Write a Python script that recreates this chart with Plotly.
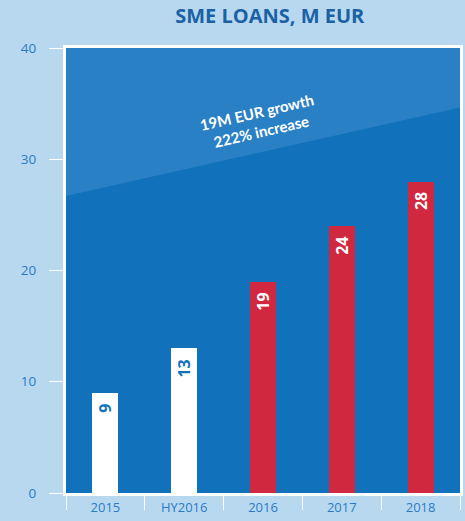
import plotly.graph_objects as go

categories = ["2015", "HY2016", "2016", "2017", "2018"]
values = [9, 13, 19, 24, 28]
bar_colors = ["#ffffff", "#ffffff", "#d0283e", "#d0283e", "#d0283e"]
label_colors = ["#1172bb", "#1172bb", "#ffffff", "#ffffff", "#ffffff"]
y_ticks = [0, 10, 20, 30, 40]
band_left, band_right = 26.7, 34.65
title_text = "SME LOANS, M EUR"
note_text = "19M EUR growth<br>222% increase"

BG = "#b8d8f0"
PLOT_BG = "#1172bb"
BAND = "#2a80c4"
TICK_COLOR = "#2a7bc4"

fig = go.Figure()
fig.add_trace(go.Bar(
    x=categories, y=values, width=0.33,
    marker=dict(color=bar_colors, line=dict(width=0)),
    hoverinfo="skip",
))

for i, (v, col) in enumerate(zip(values, label_colors)):
    fig.add_annotation(
        x=i, y=v, xref="x", yref="y", text="<b>%d</b>" % v,
        textangle=-90, showarrow=False, yanchor="top", yshift=-9,
        font=dict(family="Open Sans", size=16, color=col),
    )

fig.add_shape(
    type="path", xref="paper", yref="y", layer="below",
    path="M 0,%g L 1,%g L 1,40 L 0,40 Z" % (band_left, band_right),
    fillcolor=BAND, line=dict(width=0),
)

fig.add_annotation(
    x=0.489, y=0.834, xref="paper", yref="paper", text=note_text,
    textangle=-13, showarrow=False, xanchor="center", yanchor="middle",
    font=dict(family="Lato", size=15, color="#ffffff", weight="bold"),
)

fig.update_layout(
    width=465, height=521,
    margin=dict(l=66, r=2, t=48, b=28),
    paper_bgcolor=BG, plot_bgcolor=PLOT_BG,
    showlegend=False, bargap=0,
    title=dict(text="<b>%s</b>" % title_text, x=0.58, xref="container",
               y=0.969, yref="container", xanchor="center", yanchor="middle",
               font=dict(family="Open Sans", size=20, color="#1a62a3")),
    font=dict(family="Open Sans", size=13, color=TICK_COLOR),
)
fig.update_xaxes(
    type="category", range=[-0.5, 4.5], tickson="boundaries",
    ticks="outside", ticklen=14, tickcolor="#ffffff", tickwidth=1,
    showline=True, mirror=True, linecolor="#ffffff", linewidth=3,
    showgrid=False,
    tickfont=dict(family="Open Sans", size=13, color=TICK_COLOR),
)
fig.update_yaxes(
    range=[0, 40], tickvals=y_ticks,
    ticks="outside", ticklen=14, tickcolor="#ffffff", tickwidth=1,
    showline=True, mirror=True, linecolor="#ffffff", linewidth=3,
    showgrid=False, zeroline=False, ticklabelstandoff=10,
    tickfont=dict(family="Open Sans", size=13.5, color=TICK_COLOR),
)

fig.write_html("out.html", config={"displayModeBar": False},
               post_script="document.body.style.margin='0';")
